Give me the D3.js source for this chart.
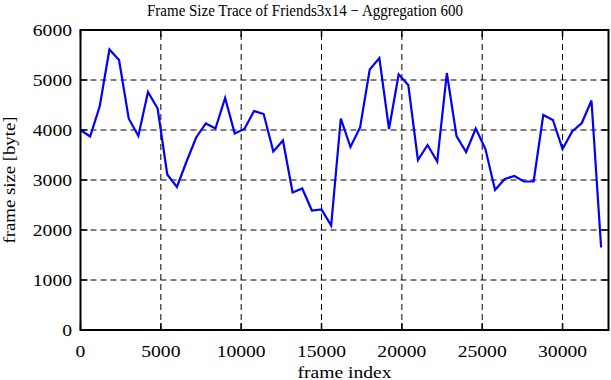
<!DOCTYPE html>
<meta charset="utf-8">
<script src="https://d3js.org/d3.v7.min.js"></script>
<div id="chart"></div>
<style>
	body {
		margin: 0;
		padding: 0;
		background: #fff;
		overflow: hidden;
	}
	text {
		font-family: "Liberation Serif", "Times New Roman", serif;
		font-size: 16px;
		fill: #000;
	}
</style>
<script>
	// frame size per aggregation block of 600 frames
	const STEP = 600;
	const frameSizes = [
		4000, 3870, 4480, 5610, 5400, 4230, 3880, 4760, 4430, 3110,
		2860, 3370, 3850, 4130, 4030, 4640, 3930, 4020, 4380, 4320,
		3570, 3790, 2750, 2830, 2390, 2410, 2090, 4230, 3660, 4050,
		5210, 5440, 4020, 5110, 4900, 3400, 3700, 3370, 5140, 3880,
		3560, 4030, 3620, 2800, 3020, 3080, 2970, 2970, 4300, 4200,
		3620, 3970, 4140, 4590, 1650
	];
	const xTicks = [0, 5000, 10000, 15000, 20000, 25000, 30000];
	const yTicks = [0, 1000, 2000, 3000, 4000, 5000, 6000];
	const xMax = 32860;

	const WIDTH = 611, HEIGHT = 380;
	const margin = { left: 80.5, right: 2.5, top: 30, bottom: 50 };

	const svg = d3.select("#chart").append("svg")
		.attr("width", WIDTH)
		.attr("height", HEIGHT);

	const x = d3.scaleLinear().domain([0, xMax]).range([margin.left, WIDTH - margin.right]);
	const y = d3.scaleLinear().domain([0, 6000]).range([HEIGHT - margin.bottom, margin.top]);

	// dashed grid
	svg.append("g").selectAll("line")
		.data(xTicks.filter(d => d > 0))
		.join("line")
		.attr("x1", d => x(d)).attr("x2", d => x(d))
		.attr("y1", y(0)).attr("y2", y(6000))
		.attr("stroke", "#000").attr("stroke-width", 1).attr("stroke-dasharray", "6,4");
	svg.append("g").selectAll("line")
		.data(yTicks.filter(d => d > 0 && d < 6000))
		.join("line")
		.attr("x1", x(0)).attr("x2", x(xMax))
		.attr("y1", d => y(d)).attr("y2", d => y(d))
		.attr("stroke", "#000").attr("stroke-width", 1).attr("stroke-dasharray", "6,4");

	// ticks, all pointing inward (mirrored on top and right)
	const T = 7;
	const ticks = svg.append("g").attr("stroke", "#000").attr("stroke-width", 1.5);
	for (const d of xTicks) {
		ticks.append("line").attr("x1", x(d)).attr("x2", x(d)).attr("y1", y(0)).attr("y2", y(0) - T);
		ticks.append("line").attr("x1", x(d)).attr("x2", x(d)).attr("y1", y(6000)).attr("y2", y(6000) + T);
	}
	for (const d of yTicks) {
		ticks.append("line").attr("x1", x(0)).attr("x2", x(0) + T).attr("y1", y(d)).attr("y2", y(d));
		ticks.append("line").attr("x1", x(xMax)).attr("x2", x(xMax) - T).attr("y1", y(d)).attr("y2", y(d));
	}

	// tick labels
	svg.append("g").selectAll("text")
		.data(xTicks)
		.join("text")
		.attr("x", d => x(d))
		.attr("y", 357)
		.attr("text-anchor", "middle")
		.attr("textLength", d => String(d).length * 9.8)
		.attr("lengthAdjust", "spacingAndGlyphs")
		.text(d => d);
	svg.append("g").selectAll("text")
		.data(yTicks)
		.join("text")
		.attr("x", 72)
		.attr("y", d => y(d) + 6)
		.attr("text-anchor", "end")
		.attr("textLength", d => String(d).length * 9.8)
		.attr("lengthAdjust", "spacingAndGlyphs")
		.text(d => d);

	// data line
	const line = d3.line()
		.x((d, i) => x(i * STEP))
		.y(d => y(d));
	svg.append("path")
		.datum(frameSizes)
		.attr("d", line)
		.attr("fill", "none")
		.attr("stroke", "#0000ff")
		.attr("stroke-width", 2.2)
		.attr("stroke-linejoin", "miter");

	// border
	svg.append("rect")
		.attr("x", x(0)).attr("y", y(6000))
		.attr("width", x(xMax) - x(0)).attr("height", y(0) - y(6000))
		.attr("fill", "none").attr("stroke", "#000").attr("stroke-width", 2);

	// titles
	svg.append("text")
		.attr("x", 305).attr("y", 16)
		.attr("text-anchor", "middle")
		.attr("textLength", 316)
		.attr("lengthAdjust", "spacingAndGlyphs")
		.text("Frame Size Trace of Friends3x14 \u2212 Aggregation 600");
	svg.append("text")
		.attr("x", (x(0) + x(xMax)) / 2).attr("y", 378)
		.attr("text-anchor", "middle")
		.attr("textLength", 94)
		.attr("lengthAdjust", "spacingAndGlyphs")
		.text("frame index");
	svg.append("text")
		.attr("transform", `translate(15,${(y(0) + y(6000)) / 2}) rotate(-90)`)
		.attr("text-anchor", "middle")
		.attr("textLength", 127)
		.attr("lengthAdjust", "spacingAndGlyphs")
		.text("frame size [byte]");
</script>
